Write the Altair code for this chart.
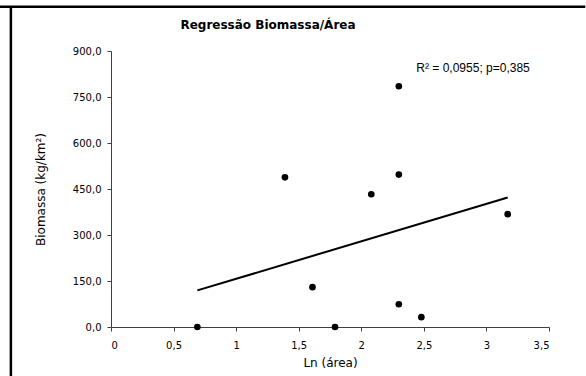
import altair as alt
import pandas as pd

# Data
ln_area = [0.69, 1.39, 1.61, 1.79, 2.08, 2.30, 2.30, 2.30, 2.48, 3.17]
biomassa = [0.0, 488.0, 130.0, 0.0, 433.0, 497.0, 785.0, 74.0, 32.0, 368.0]

x_ticks = [0, 0.5, 1, 1.5, 2, 2.5, 3, 3.5]
y_ticks = [0, 150, 300, 450, 600, 750, 900]

title_text = "Regressão Biomassa/Área"
x_title = "Ln (área)"
y_title = "Biomassa (kg/km²)"
annot_text = ["R² = 0,0955; p=0,385"]
annot_x = [2.44]
annot_y = [832]

df = pd.DataFrame({"x": ln_area, "y": biomassa})
ann = pd.DataFrame({"x": annot_x, "y": annot_y, "t": annot_text})
# frame lines of the chart object (top and left border), outside the axis domains
frame_h = pd.DataFrame({"x": [-0.8904], "x2": [3.79], "y": [1044]})
frame_v = pd.DataFrame({"x": [-0.80], "y": [1047], "y2": [-200]})

W, H = 438, 276

xscale = alt.Scale(domain=[0, 3.5], nice=False, zero=True)
yscale = alt.Scale(domain=[0, 900], nice=False)

xaxis = alt.Axis(
    values=x_ticks,
    labelExpr="replace(toString(datum.value), '.', ',')",
    title=x_title,
    titlePadding=7,
    labelPadding=9,
    tickSize=4,
    grid=False,
)
yaxis = alt.Axis(
    values=y_ticks,
    labelExpr="replace(format(datum.value, '.1f'), '.', ',')",
    title=y_title,
    titlePadding=25,
    labelPadding=6,
    tickSize=4,
    grid=False,
)

base = alt.Chart(df)

points = base.mark_circle(size=44, color="black", opacity=1).encode(
    x=alt.X("x:Q", scale=xscale, axis=xaxis),
    y=alt.Y("y:Q", scale=yscale, axis=yaxis),
)

trend = base.transform_regression("x", "y", method="linear").mark_line(
    color="black", strokeWidth=2
).encode(
    x=alt.X("x:Q", scale=xscale),
    y=alt.Y("y:Q", scale=yscale),
)

annot = alt.Chart(ann).mark_text(
    align="left", baseline="alphabetic", font="Liberation Sans", fontSize=12, color="black"
).encode(
    x=alt.X("x:Q", scale=xscale),
    y=alt.Y("y:Q", scale=yscale),
    text="t:N",
)

frame_top = alt.Chart(frame_h).mark_rule(color="black", strokeWidth=2.5).encode(
    x=alt.X("x:Q", scale=xscale), x2="x2:Q", y=alt.Y("y:Q", scale=yscale)
)
frame_left = alt.Chart(frame_v).mark_rule(color="black", strokeWidth=2.5).encode(
    x=alt.X("x:Q", scale=xscale), y=alt.Y("y:Q", scale=yscale), y2="y2:Q"
)

chart = (
    alt.layer(frame_top, frame_left, trend, points, annot)
    .properties(
        width=W,
        height=H,
        title=alt.TitleParams(
            title_text,
            font="DejaVu Sans",
            fontSize=12,
            fontWeight="bold",
            anchor="middle",
            dx=-62,
            offset=-27,
            color="black",
        ),
        autosize=alt.AutoSizeParams(type="none"),
        padding={"left": 111, "top": 51, "right": 37, "bottom": 49},
        background="white",
    )
    .configure_view(stroke=None)
    .configure_axis(
        grid=False,
        domainColor="#404040",
        tickColor="#404040",
        labelFont="DejaVu Sans",
        labelFontSize=10,
        labelColor="black",
        titleFont="DejaVu Sans",
        titleFontSize=12,
        titleFontWeight="normal",
        titleColor="black",
    )
)

chart.save("out.html", embed_options={"renderer": "svg", "actions": False})
